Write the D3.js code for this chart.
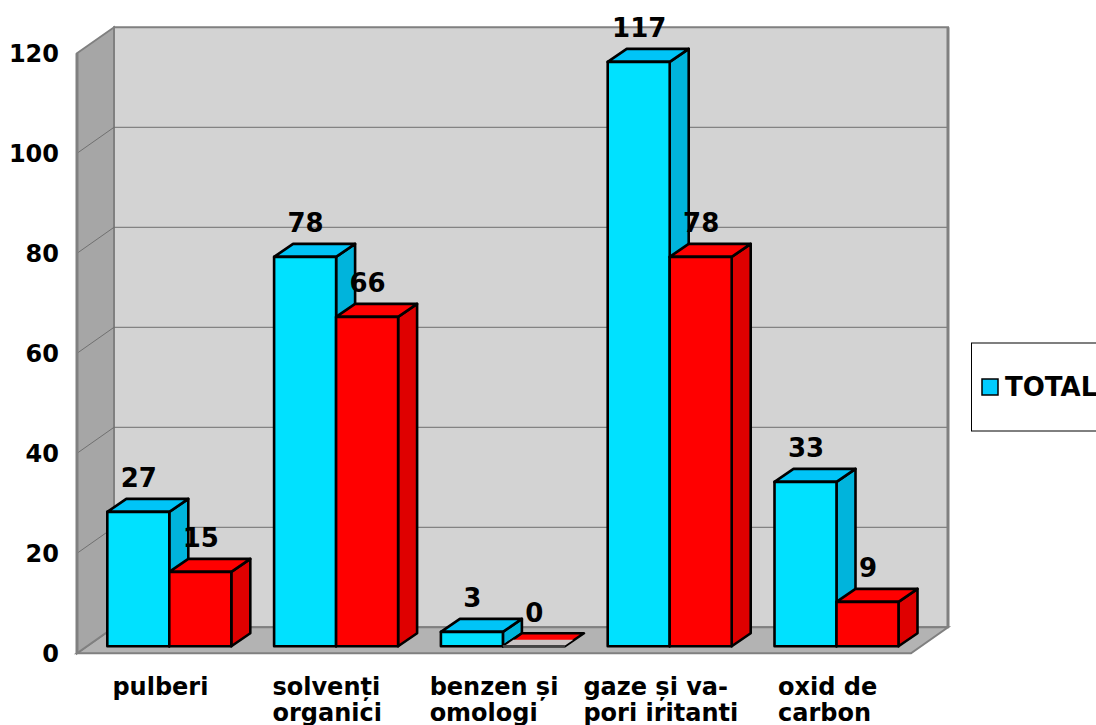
<!DOCTYPE html>
<html>
<head>
<meta charset="utf-8">
<script src="https://cdnjs.cloudflare.com/ajax/libs/d3/7.8.5/d3.min.js"></script>
<style>
  html, body { margin: 0; padding: 0; background: #fff; overflow: hidden; }
  svg { display: block; }
  text { font-family: "DejaVu Sans", sans-serif; font-weight: bold; fill: #000; }
</style>
</head>
<body>
<div id="myChart"></div>
<script>
const categories = ["pulberi", "solvenți organici", "benzen și omologi", "gaze și va- pori iritanti", "oxid de carbon"];
const categoryLines = [["pulberi"], ["solvenți", "organici"], ["benzen și", "omologi"], ["gaze și va-", "pori iritanti"], ["oxid de", "carbon"]];
const total = [27, 78, 3, 117, 33];
const second = [15, 66, 0, 78, 9];
const yTicks = [0, 20, 40, 60, 80, 100, 120];
const legendLabels = ["TOTAL"];

const seriesList = [
  { values: total, front: "#00e1ff", top: "#00c4f7", side: "#00b4dc" },
  { values: second, front: "#ff0000", top: "#ff0000", side: "#df0000" }
];

const width = 1096, height = 725;
const svg = d3.select("#myChart").append("svg")
  .attr("width", width)
  .attr("height", height);

let x = d3.scaleBand().domain(categories).range([77, 911]);
let y = d3.scaleLinear().domain([0, 120]).range([653.3, 53.3]);

// depth of the box and of the bars
const dx = 37, dy = -26;
const barDx = 19, barDy = -13;
const liftY = -7;
const barW = 62, barInset = 30.3;

const poly = pts => pts.map(p => p.join(",")).join(" ");
const left = x.range()[0], right = x.range()[1];
const y0 = y(0), yTop = y(120);

// walls and floor
svg.append("polygon")
  .attr("points", poly([[left + dx, yTop + dy], [right + dx, yTop + dy], [right + dx, y0 + dy], [left + dx, y0 + dy]]))
  .attr("fill", "#d3d3d3").attr("stroke", "#808080").attr("stroke-width", 2);
svg.append("polygon")
  .attr("points", poly([[left, y0], [right, y0], [right + dx, y0 + dy], [left + dx, y0 + dy]]))
  .attr("fill", "#b3b3b3").attr("stroke", "#808080").attr("stroke-width", 2);
svg.append("polygon")
  .attr("points", poly([[left, yTop], [left + dx, yTop + dy], [left + dx, y0 + dy], [left, y0]]))
  .attr("fill", "#a6a6a6").attr("stroke", "#808080").attr("stroke-width", 2);

// grid lines on back wall and left wall
svg.selectAll(".grid")
  .data(yTicks.filter(t => t > 0 && t < 120))
  .enter()
  .append("polyline")
  .attr("class", "grid")
  .attr("fill", "none")
  .attr("stroke", "#707070")
  .attr("stroke-width", 1)
  .attr("points", d => poly([[left, y(d)], [left + dx, y(d) + dy], [right + dx, y(d) + dy]]));

// thicker edges: front of the left wall, right of the back wall
svg.append("line")
  .attr("x1", left).attr("x2", left)
  .attr("y1", yTop).attr("y2", y0)
  .attr("stroke", "#808080").attr("stroke-width", 3);
svg.append("line")
  .attr("x1", right + dx).attr("x2", right + dx)
  .attr("y1", yTop + dy).attr("y2", y0 + dy)
  .attr("stroke", "#808080").attr("stroke-width", 3);

// y axis labels
svg.selectAll(".tick-label")
  .data(yTicks)
  .enter()
  .append("text")
  .attr("class", "tick-label")
  .attr("x", 59)
  .attr("y", d => y(d))
  .attr("dy", "0.36em")
  .attr("text-anchor", "end")
  .style("font-size", "24px")
  .text(d => d);

// bars, back to front so that the left bar's side sits behind the right bar
categories.forEach((c, ci) => {
  seriesList.forEach((s, si) => {
    const v = s.values[ci];
    const bx = x(c) + barInset + si * barW;
    const by0 = y(0) + liftY;
    const by = y(v) + liftY + (v > 0 ? 0.6 : 0);
    const g = svg.append("g").attr("class", "bar");
    const add = (pts, fill) => g.append("polygon")
      .attr("points", poly(pts))
      .attr("fill", fill)
      .attr("stroke", "#000")
      .attr("stroke-width", 2.6)
      .attr("stroke-linejoin", "round");
    if (v === 0) {
      // zero height bar: flat top, lower half fades out to grey
      add([[bx, by0], [bx + barW, by0], [bx + barW + barDx, by0 + barDy], [bx + barDx, by0 + barDy]], s.top);
      g.append("polygon")
        .attr("points", poly([[bx + 1, by0], [bx + barW - 1, by0], [bx + barW + barDx / 2 - 1, by0 + barDy / 2], [bx + barDx / 2 + 1, by0 + barDy / 2]]))
        .attr("fill", "#c9c4c4");
      g.append("line").attr("x1", bx).attr("x2", bx + barW).attr("y1", by0).attr("y2", by0)
        .attr("stroke", "#444").attr("stroke-width", 2.6);
      return;
    }
    add([[bx + barW, by], [bx + barW + barDx, by + barDy], [bx + barW + barDx, by0 + barDy], [bx + barW, by0]], s.side);
    add([[bx, by], [bx + barDx, by + barDy], [bx + barW + barDx, by + barDy], [bx + barW, by]], s.top);
    add([[bx, by], [bx + barW, by], [bx + barW, by0], [bx, by0]], s.front);
  });
});

// value labels, on top of all bars
categories.forEach((c, ci) => {
  seriesList.forEach((s, si) => {
    const v = s.values[ci];
    svg.append("text")
      .attr("class", "value-label")
      .attr("x", x(c) + barInset + si * barW + barW / 2 + 0.5)
      .attr("y", y(v) + liftY - 24)
      .attr("text-anchor", "middle")
      .style("font-size", "26px")
      .text(v);
  });
});

// category labels: lines left aligned, block centred on the band
categoryLines.forEach((lines, ci) => {
  const g = svg.append("g");
  const texts = lines.map((l, li) => g.append("text")
    .attr("y", 695 + li * 26)
    .style("font-size", "24px")
    .text(l));
  const w = d3.max(texts, t => t.node().getComputedTextLength());
  const start = x(categories[ci]) + x.bandwidth() / 2 - w / 2;
  texts.forEach(t => t.attr("x", start));
});

// legend, runs off the right edge like the original
svg.append("rect")
  .attr("x", 971.5).attr("y", 343)
  .attr("width", 160).attr("height", 88)
  .attr("fill", "#fff").attr("stroke", "#000").attr("stroke-width", 1);
svg.append("rect")
  .attr("x", 982).attr("y", 379)
  .attr("width", 16).attr("height", 16)
  .attr("fill", "#00ccff").attr("stroke", "#000").attr("stroke-width", 1.5);
svg.append("text")
  .attr("x", 1005).attr("y", 396)
  .style("font-size", "26px")
  .text(legendLabels[0]);
</script>
</body>
</html>
